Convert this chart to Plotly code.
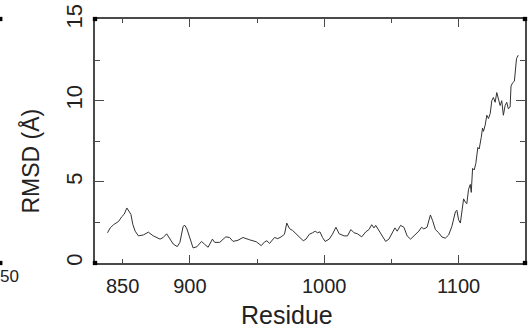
import plotly.graph_objects as go

residue = [838.7, 840.7, 843.2, 846.9, 849.4, 851.1, 853.1, 854.3, 856.1, 857.6, 859.3, 861.7,
           865.4, 869.1, 872.8, 877.8, 880.2, 882.7, 885.2, 887.6, 890.6, 892.6, 895.0, 896.3,
           897.8, 900.0, 902.4, 905.2, 908.7, 911.0, 913.6, 916.8, 918.5, 922.2, 926.7, 929.6,
           932.1, 935.8, 939.5, 944.4, 949.4, 953.1, 955.6, 957.3, 959.3, 963.0, 965.4, 967.9,
           970.4, 972.1, 974.1, 976.5, 979.0, 981.5, 984.4, 986.4, 988.9, 991.3, 993.3, 995.0,
           996.8, 998.7, 1000.7, 1003.7, 1006.1, 1008.7, 1011.1, 1014.8, 1017.3, 1019.8, 1022.2,
           1024.7, 1027.9, 1030.9, 1033.3, 1035.3, 1037.0, 1038.3, 1040.2, 1042.7, 1045.7, 1048.1,
           1050.6, 1052.6, 1054.3, 1056.8, 1059.3, 1061.7, 1064.2, 1067.9, 1070.4, 1072.4, 1074.1,
           1076.5, 1079.0, 1080.7, 1082.7, 1085.2, 1087.6, 1090.1, 1092.6, 1095.0, 1097.6, 1098.7,
           1100.0, 1101.3, 1102.4, 1103.7, 1105.0, 1106.1, 1107.4, 1108.7, 1109.4, 1110.4, 1111.6,
           1112.8, 1114.3, 1115.3, 1116.8, 1117.8, 1118.5, 1119.8, 1121.0, 1122.2, 1123.5, 1124.7,
           1125.9, 1127.2, 1128.4, 1129.6, 1130.9, 1132.1, 1133.3, 1134.6, 1135.8, 1137.0, 1138.3,
           1139.0, 1140.2, 1141.5, 1142.4, 1143.1, 1144.4]
rmsd = [1.86, 2.16, 2.36, 2.56, 2.86, 3.0, 3.39, 3.2, 3.0, 2.36, 1.96, 1.67,
        1.73, 1.9, 1.67, 1.47, 1.57, 1.8, 1.47, 1.17, 1.01, 1.27, 2.26, 2.32,
        2.1, 1.6, 0.93, 1.0, 1.33, 1.15, 0.97, 1.47, 1.27, 1.27, 1.61, 1.57,
        1.33, 1.4, 1.57, 1.43, 1.31, 1.07, 1.3, 1.37, 1.21, 1.57, 1.5, 1.61,
        1.77, 2.46, 2.12, 2.0, 1.8, 1.57, 1.37, 1.47, 1.77, 1.86, 1.96, 1.86,
        1.92, 1.57, 1.33, 1.47, 1.77, 2.2, 1.8, 1.67, 1.67, 2.06, 1.86,
        1.8, 1.61, 1.92, 2.06, 2.36, 2.16, 2.32, 2.06, 1.67, 1.33, 1.47,
        1.86, 2.16, 1.96, 2.32, 2.2, 1.67, 1.47, 1.77, 1.96, 2.2, 2.1,
        2.2, 2.96, 2.6, 2.06, 1.86, 1.6, 1.53, 1.73, 2.26, 3.15, 3.25,
        2.66, 2.46, 3.2, 3.95, 3.75, 3.65, 4.54, 4.84, 4.35, 5.83, 5.73,
        6.13, 7.12, 7.02, 7.72, 8.31, 8.11, 8.51, 9.1, 8.9, 9.2, 10.0,
        10.2, 9.9, 10.5, 10.1, 9.7, 10.0, 9.1, 9.7, 9.9, 9.5, 9.6,
        10.9, 11.1, 11.2, 11.9, 12.6, 12.8]

x_major = [900, 1000, 1100]
x_minor = [850, 950, 1050]
x_label_vals = [850, 900, 1000, 1100]
x_label_text = ["850", "900", "1000", "1100"]
y_ticks = [0, 5, 10, 15]
y_tick_text = ["0", "5", "10", "15"]

FONT = "Liberation Sans, Arial, sans-serif"
XR = [829.4, 1149.4]
YR = [0, 15.03]

fig = go.Figure()
fig.add_trace(go.Scatter(x=residue, y=rmsd, mode="lines",
                         line=dict(color="#333333", width=1), showlegend=False,
                         hoverinfo="skip"))
fig.add_trace(go.Scatter(x=[None], y=[None], xaxis="x2", mode="lines",
                         showlegend=False, hoverinfo="skip"))

axis_line = "#4a4a4a"
fig.update_layout(
    width=531, height=331,
    margin=dict(l=95, r=4, t=12, b=68),
    paper_bgcolor="white", plot_bgcolor="white",
    font=dict(family=FONT, color="#222222"),
    xaxis=dict(range=XR, showgrid=False, zeroline=False,
               showline=True, linecolor=axis_line, linewidth=1.5, mirror="ticks",
               ticks="inside", tickvals=x_major, ticklen=8, tickcolor=axis_line,
               tickwidth=1, showticklabels=False,
               minor=dict(tickvals=x_minor, ticks="inside", ticklen=4,
                          tickcolor=axis_line, tickwidth=1)),
    xaxis2=dict(range=XR, overlaying="x", side="bottom", anchor="y",
                showgrid=False, zeroline=False, showline=False, ticks="",
                tickvals=x_label_vals, ticktext=x_label_text,
                tickfont=dict(size=20, family=FONT, color="#222222"),
                ticklabelstandoff=9),
    yaxis=dict(range=YR, showgrid=False, zeroline=False,
               showline=True, linecolor=axis_line, linewidth=1.5, mirror="ticks",
               ticks="inside", tickvals=y_ticks, ticktext=y_tick_text,
               ticklen=9, tickcolor=axis_line,
               tickwidth=1, tickangle=-90, ticklabeloverflow="allow",
               tickfont=dict(size=22, family=FONT, color="#222222"),
               ticklabelstandoff=2,
               minor=dict(dtick=2.5, tick0=0, ticks="inside", ticklen=5,
                          tickcolor=axis_line, tickwidth=1)),
)

# axis titles
fig.add_annotation(text="RMSD (Å)", xref="paper", yref="paper", x=-0.150, y=0.418,
                   textangle=-90, showarrow=False, xanchor="center", yanchor="middle",
                   font=dict(size=23, family=FONT, color="#222222"))
fig.add_annotation(text="Residue", xref="paper", yref="paper", x=0.447, y=-0.215,
                   showarrow=False, xanchor="center", yanchor="middle",
                   font=dict(size=25, family=FONT, color="#222222"))
# remnant of neighbouring panel at the left edge
fig.add_annotation(text="50", xref="paper", yref="paper", x=(-2 - 95) / 432,
                   y=(263 - 277) / 251, showarrow=False, xanchor="left",
                   yanchor="middle", font=dict(size=17, family=FONT, color="#222222"))

# corner squares
pw, ph = 432.0, 251.0
sx, sy = 2.2 / pw, 2.2 / ph
for cx, cy in [(0, 0), (0, 1), (1, 0), (1, 1)]:
    fig.add_shape(type="rect", xref="paper", yref="paper",
                  x0=cx - sx, x1=cx + sx, y0=cy - sy, y1=cy + sy,
                  fillcolor="black", line=dict(width=0), layer="above")
for cy in [0, 1]:
    fig.add_shape(type="rect", xref="paper", yref="paper",
                  x0=(-4 - 95) / pw, x1=(2 - 95) / pw, y0=cy - sy, y1=cy + sy,
                  fillcolor="black", line=dict(width=0), layer="above")

fig.write_html("out.html")
